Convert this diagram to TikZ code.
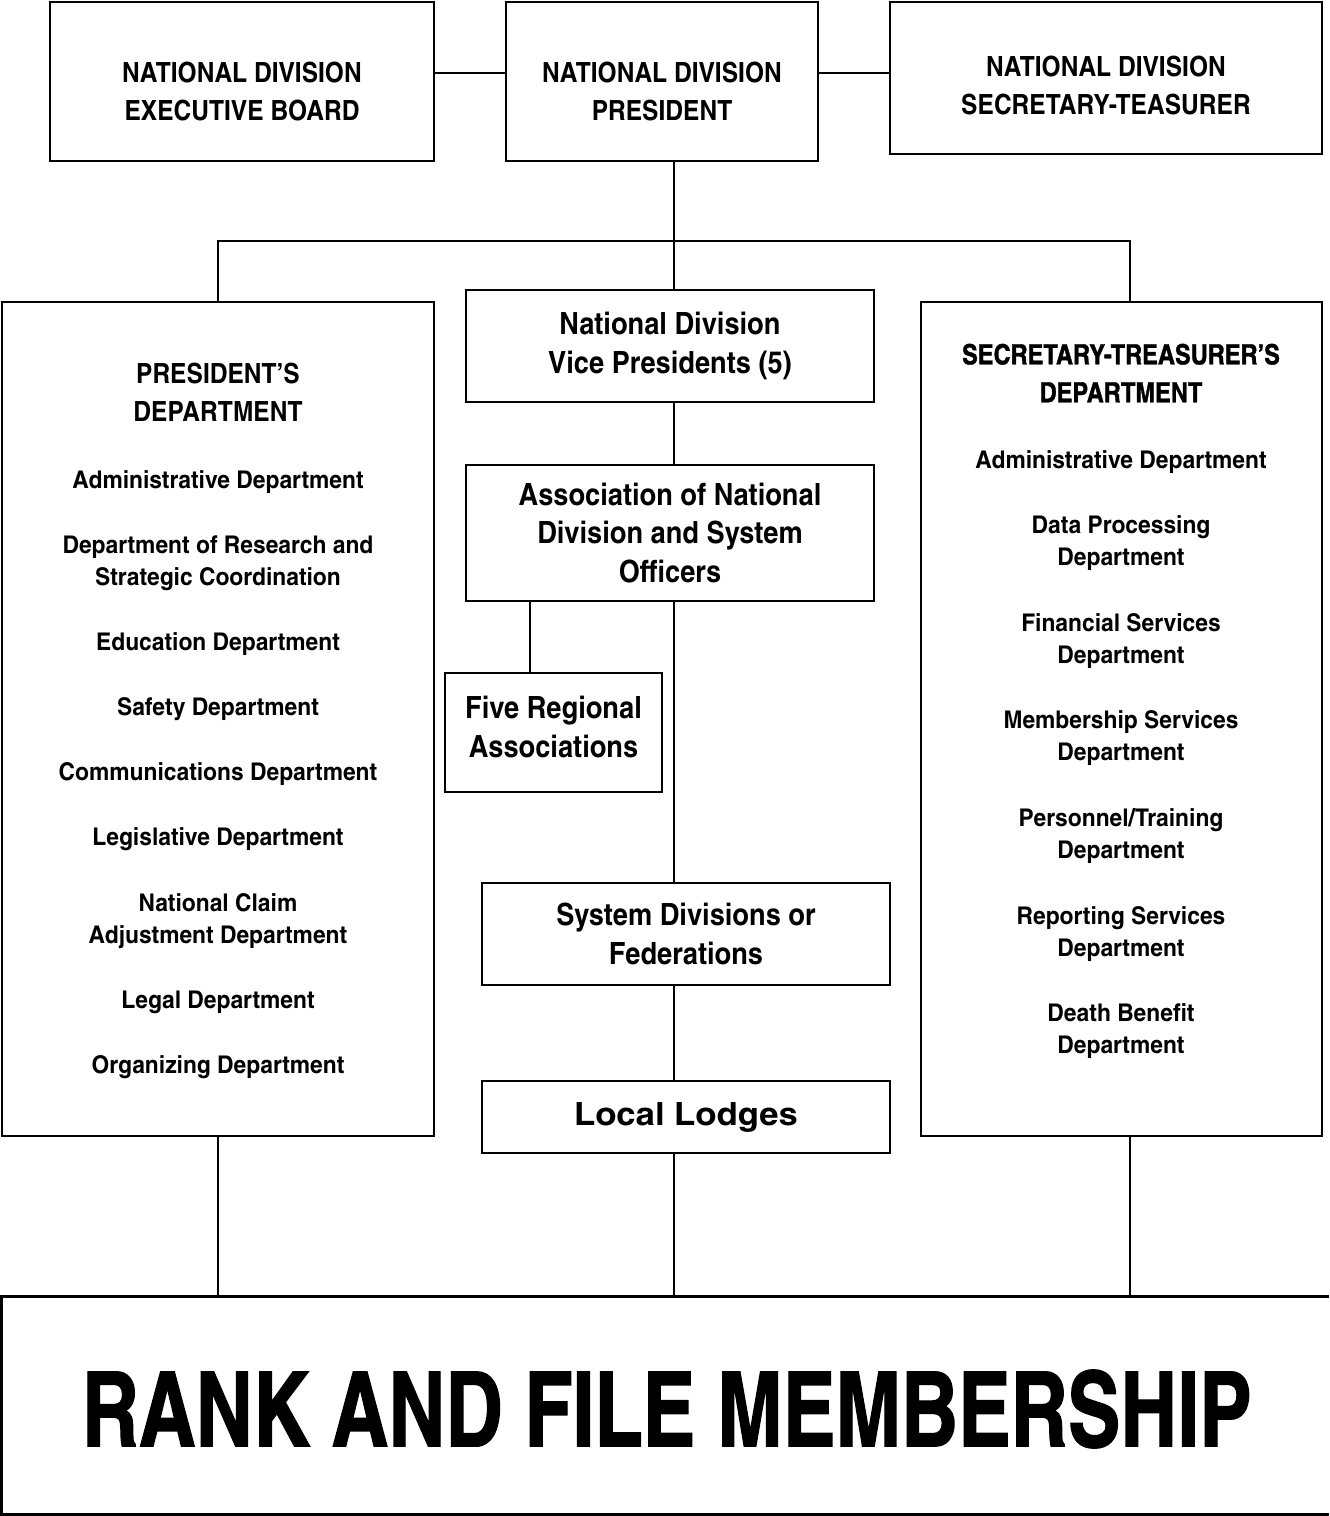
\documentclass[tikz,border=0pt]{standalone}
\usepackage{fontspec}
\setmainfont{texgyreheroscn}[Extension=.otf, UprightFont=*-regular, BoldFont=*-bold, ItalicFont=*-italic, BoldItalicFont=*-bolditalic]
\newfontface\ttlfont{texgyreheroscn-bold}[Extension=.otf, FakeStretch=1.077]
\newfontface\sdfont{texgyreheroscn-bold}[Extension=.otf, FakeBold=1.2, FakeStretch=1.036]
\newfontface\itmfont{texgyreheroscn-bold}[Extension=.otf, FakeStretch=1.14]
\newfontface\midfont{texgyreheroscn-bold}[Extension=.otf, FakeStretch=1.085]
\newfontface\lodgefont{texgyreheroscn-bold}[Extension=.otf, FakeStretch=1.32]
\newfontface\rankfont{texgyreheroscn-bold}[Extension=.otf, FakeBold=1.2, FakeStretch=0.925]
\usetikzlibrary{positioning, calc}

\tikzset{
  box/.style={draw, line width=1.2pt, inner sep=0pt, align=center},
  ttl/.style={font=\fontsize{13.9}{19}\ttlfont, align=center},
  itm/.style={font=\fontsize{12.2}{16}\itmfont, align=center},
  mid/.style={box, font=\fontsize{15.3}{19.3}\midfont},
  link/.style={line width=1pt}
}

\begin{document}
\begin{tikzpicture}[x=0.5pt, y=-0.5pt]
\useasboundingbox (0,0) rectangle (1329,1516);
% top row
\node[box, minimum width=192pt, minimum height=79.5pt] (exec) at (242, 81.5) {};
\node[box, minimum width=156pt, minimum height=79.5pt] (pres) at (662, 81.5) {};
\node[box, minimum width=216pt, minimum height=76pt] (sect) at (1106, 78) {};
\node[ttl] (execT) at (242, 92) {NATIONAL DIVISION\\EXECUTIVE BOARD};
\node[ttl] (presT) at (662, 92) {NATIONAL DIVISION\\PRESIDENT};
\node[ttl] (sectT) at (1106, 86) {NATIONAL DIVISION\\SECRETARY-TEASURER};
% departments
\node[box, minimum width=216pt, minimum height=417pt] (presdept) at (218, 719) {};
\node[box, minimum width=200.5pt, minimum height=417pt] (sectdept) at (1121.5, 719) {};
\node[ttl] (presdeptT) at (218, 392.5) {PRESIDENT’S\\DEPARTMENT};
\node[itm] (pd1) at (218, 482) {Administrative Department};
\node[itm] (pd2) at (218, 563) {Department of Research and\\Strategic Coordination};
\node[itm] (pd3) at (218, 644) {Education Department};
\node[itm] (pd4) at (218, 709) {Safety Department};
\node[itm] (pd5) at (218, 774) {Communications Department};
\node[itm] (pd6) at (218, 839) {Legislative Department};
\node[itm] (pd7) at (218, 921) {National Claim\\Adjustment Department};
\node[itm] (pd8) at (218, 1002) {Legal Department};
\node[itm] (pd9) at (218, 1067) {Organizing Department};
\node[ttl, font=\fontsize{13.9}{19}\sdfont] (sectdeptT) at (1121, 373) {SECRETARY-TREASURER’S\\DEPARTMENT};
\node[itm] (sd1) at (1121, 462) {Administrative Department};
\node[itm] (sd2) at (1121, 543.5) {Data Processing\\Department};
\node[itm] (sd3) at (1121, 641.5) {Financial Services\\Department};
\node[itm] (sd4) at (1121, 738.5) {Membership Services\\Department};
\node[itm] (sd5) at (1121, 836.5) {Personnel/Training\\Department};
\node[itm] (sd6) at (1121, 934) {Reporting Services\\Department};
\node[itm] (sd7) at (1121, 1031) {Death Benefit\\Department};
% middle column
\node[mid, minimum width=204pt, minimum height=56pt] (vp) at (670, 346) {National Division\\Vice Presidents (5)};
\node[mid, minimum width=204pt, minimum height=68pt] (assoc) at (670, 533) {Association of National\\Division and System\\Officers};
\node[mid, minimum width=108.5pt, minimum height=59.5pt] (five) at (553.5, 732.5) {Five Regional\\Associations\rule[-6pt]{0pt}{6pt}};
\node[mid, minimum width=204pt, minimum height=51pt] (sysdiv) at (686, 934) {System Divisions or\\Federations};
\node[mid, minimum width=204pt, minimum height=36pt, font=\fontsize{16}{20}\lodgefont] (lodges) at (686, 1117) {Local Lodges};
% membership
\node[inner sep=0pt, minimum width=663.5pt, minimum height=108.5pt, font=\fontsize{52}{52}\rankfont] (rank) at (665.5, 1405.5) {};
\node[inner sep=0pt, font=\fontsize{52}{52}\rankfont] (rankT) at (667, 1409) {RANK AND FILE MEMBERSHIP};
\draw[line width=1.2pt] (rank.north east) -- (rank.north west) -- (rank.south west) -- (rank.south east);
% connectors
\coordinate (spine) at (674, 241);
\coordinate (lbus) at (218, 241);
\coordinate (rbus) at (1130, 241);
\draw[link] ([yshift=4.25pt]exec.east) -- ([yshift=4.25pt]exec.east -| pres.west);
\draw[link] ([yshift=4.25pt]pres.east) -- ([yshift=4.25pt]pres.east -| sect.west);
\draw[link] (spine |- pres.south) -- (spine |- vp.north);
\draw[link] (lbus |- presdept.north) -- (lbus) -- (rbus) -- (rbus |- sectdept.north);
\draw[link] (spine |- vp.south) -- (spine |- assoc.north);
\draw[link] ([xshift=-11.75pt]five.north |- assoc.south) -- ([xshift=-11.75pt]five.north);
\draw[link] (spine |- assoc.south) -- (spine |- sysdiv.north);
\draw[link] (spine |- sysdiv.south) -- (spine |- lodges.north);
\draw[link] (spine |- lodges.south) -- (spine |- rank.north);
\draw[link] (lbus |- presdept.south) -- (lbus |- rank.north);
\draw[link] (rbus |- sectdept.south) -- (rbus |- rank.north);
\end{tikzpicture}
\end{document}
